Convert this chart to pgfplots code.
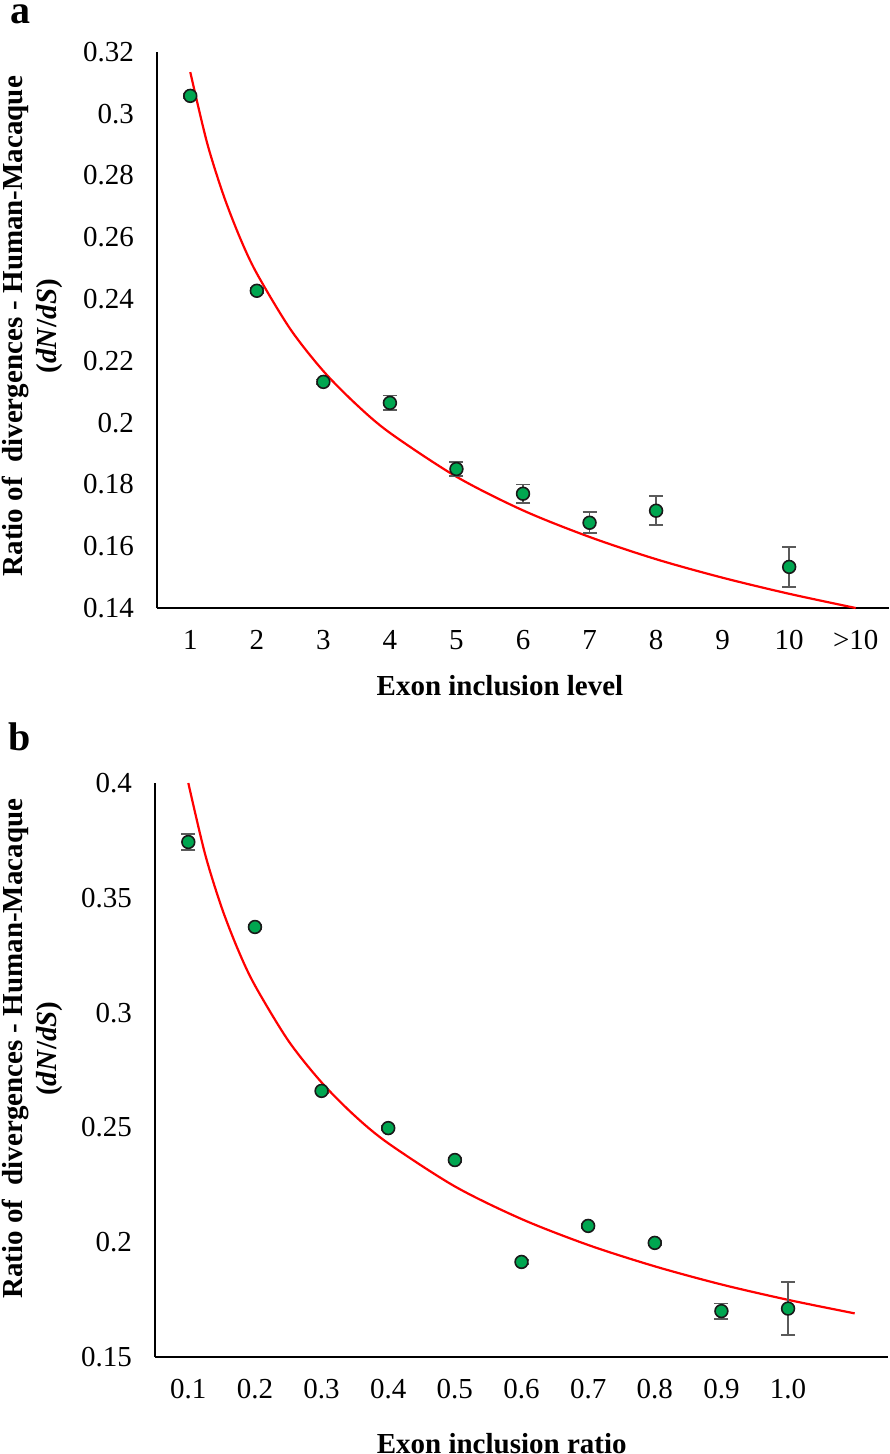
\documentclass[border=0pt]{standalone}
\usepackage{fontspec}
\setmainfont{Liberation Serif}
\usepackage{pgfplots}
\pgfplotsset{compat=1.18}
\definecolor{ptgreen}{RGB}{0,166,80}
\definecolor{barg}{RGB}{90,90,90}
\definecolor{fitred}{RGB}{255,0,0}

\pgfplotsset{
  panel/.style={
    scale only axis, axis x line=bottom, axis y line=left,
    axis line style={-, line width=1.3pt, black},
    major tick length=0pt, xmin=0.5, xmax=11.5,
    tick label style={font=\fontsize{14.5}{16}\selectfont},
    xticklabel style={yshift=-7.5pt},
    yticklabel style={xshift=-8pt},
    label style={font=\fontsize{14.5}{17}\selectfont\bfseries},
    clip=false,
  },
  pts/.style={draw=black, only marks, mark=*, mark size=3.2pt,
    mark options={fill=ptgreen, draw=black!90, line width=0.8pt},
    error bars/.cd, y dir=both, y explicit,
    error bar style={barg, line width=0.9pt},
    error mark options={rotate=90, mark size=3.5pt, barg, line width=0.9pt}},
  fit/.style={fitred, line width=1.1pt, no marks, smooth},
}

\begin{document}
\begin{tikzpicture}
\useasboundingbox (0,0) rectangle (444.5pt,-727pt);

% panel a
\node[anchor=base west, inner sep=0pt, font=\fontsize{20}{24}\selectfont\bfseries] at (5pt,-12pt) {a};
\begin{axis}[panel,
  at={(78.5pt,-304pt)}, anchor=south west,
  width=366pt, height=278pt,
  ymin=0.14, ymax=0.32,
  ytick={0.14,0.16,0.18,0.2,0.22,0.24,0.26,0.28,0.3,0.32},
  yticklabels={0.14,0.16,0.18,0.2,0.22,0.24,0.26,0.28,0.3,0.32},
  xtick={1,...,11},
  xticklabels={1,2,3,4,5,6,7,8,9,10,>10},
  xlabel={Exon inclusion level},
  xlabel style={at={(axis description cs:0.4686,0)}, anchor=base, yshift=-43.5pt},
  ylabel={Ratio of\ \ divergences - Human-Macaque\\(\textit{dN}/\textit{dS})},
  ylabel style={at={(axis description cs:-0.1708,0.507)}, anchor=center, align=center},
]
\addplot[fit] coordinates {
  (1,0.3135) (1.25,0.2908) (1.5,0.2736) (1.75,0.2597) (2,0.2483)
  (2.5,0.2304) (3,0.2167) (3.5,0.2058) (4,0.1967) (5,0.1825)
  (6,0.1716) (7,0.1630) (8,0.1558) (9,0.1498) (10,0.1446) (11,0.1400)};
\addplot[pts] coordinates {
  (1,0.3058) +- (0,0.0007)
  (2,0.2427) +- (0,0.0008)
  (3,0.2132) +- (0,0.0008)
  (4,0.2064) +- (0,0.0024)
  (5,0.1850) +- (0,0.0022)
  (6,0.1770) +- (0,0.0030)
  (7,0.1676) +- (0,0.0034)
  (8,0.1715) +- (0,0.0047)
  (10,0.1533) +- (0,0.0065)};
\end{axis}

% panel b
\node[anchor=base west, inner sep=0pt, font=\fontsize{20}{24}\selectfont\bfseries] at (4pt,-375pt) {b};
\begin{axis}[panel,
  at={(77.5pt,-678.5pt)}, anchor=south west,
  width=366.5pt, height=287pt,
  ymin=0.15, ymax=0.4,
  ytick={0.15,0.2,0.25,0.3,0.35,0.4},
  yticklabels={0.15,0.2,0.25,0.3,0.35,0.4},
  xtick={1,...,10},
  xticklabels={0.1,0.2,0.3,0.4,0.5,0.6,0.7,0.8,0.9,1.0},
  xlabel={Exon inclusion ratio},
  xlabel style={at={(axis description cs:0.473,0)}, anchor=base, yshift=-48pt},
  ylabel={Ratio of\ \ divergences - Human-Macaque\\(\textit{dN}/\textit{dS})},
  ylabel style={at={(axis description cs:-0.1678,0.537)}, anchor=center, align=center},
]
\addplot[fit] coordinates {
  (1,0.4000) (1.25,0.3692) (1.5,0.3458) (1.75,0.3271) (2,0.3118)
  (2.5,0.2878) (3,0.2696) (3.5,0.2550) (4,0.2431) (5,0.2243)
  (6,0.2101) (7,0.1988) (8,0.1895) (9,0.1816) (10,0.1749) (11,0.1690)};
\addplot[pts] coordinates {
  (1,0.3743) +- (0,0.0035)
  (2,0.3373) +- (0,0.0010)
  (3,0.2659) +- (0,0.0010)
  (4,0.2497) +- (0,0.0010)
  (5,0.2358) +- (0,0.0010)
  (6,0.1914) +- (0,0.0010)
  (7,0.2071) +- (0,0.0010)
  (8,0.1997) +- (0,0.0010)
  (9,0.1700) +- (0,0.0033)
  (10,0.1711) +- (0,0.0115)};
\end{axis}
\end{tikzpicture}
\end{document}
